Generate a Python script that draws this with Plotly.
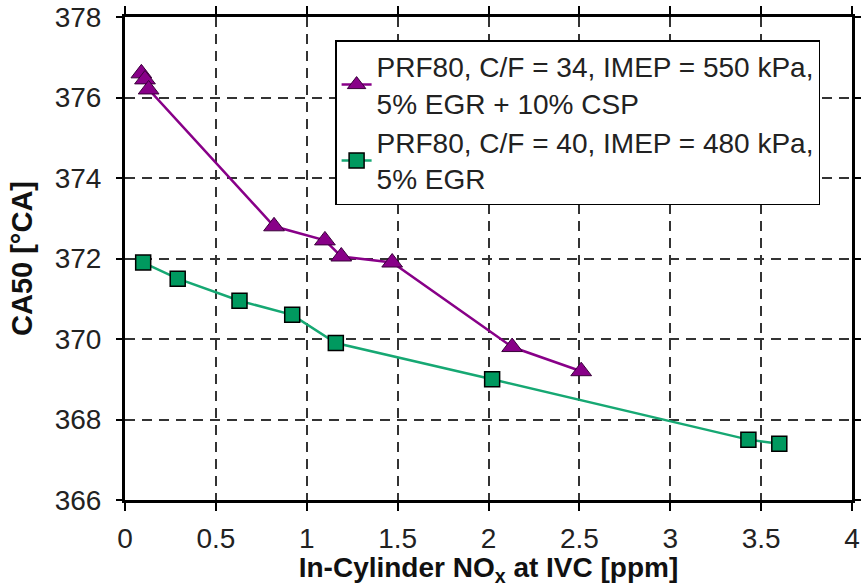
import plotly.graph_objects as go

# Data
nox_csp = [0.09, 0.11, 0.13, 0.82, 1.10, 1.19, 1.47, 2.13, 2.51]
ca50_csp = [376.6, 376.45, 376.2, 372.8, 372.45, 372.05, 371.9, 369.8, 369.2]

nox_egr = [0.10, 0.29, 0.63, 0.92, 1.16, 2.02, 3.43, 3.60]
ca50_egr = [371.9, 371.5, 370.95, 370.6, 369.9, 369.0, 367.5, 367.4]

name_csp = "PRF80, C/F = 34, IMEP = 550 kPa,<br>5% EGR + 10% CSP"
name_egr = "PRF80, C/F = 40, IMEP = 480 kPa,<br>5% EGR"

x_ticks = [0, 0.5, 1, 1.5, 2, 2.5, 3, 3.5, 4]
x_ticklabels = ["0", "0.5", "1", "1.5", "2", "2.5", "3", "3.5", "4"]
y_ticks = [366, 368, 370, 372, 374, 376, 378]

purple = "#880088"
green_fill = "#00995F"
green_line = "#16A873"

FONT = "Liberation Sans, Arial, sans-serif"

fig = go.Figure()
fig.add_trace(go.Scatter(
    x=nox_csp, y=ca50_csp, name=name_csp, mode="lines+markers",
    line=dict(color=purple, width=2.5),
    marker=dict(symbol="triangle-up", size=18, color=purple,
                line=dict(color="#3a003a", width=1)),
))
fig.add_trace(go.Scatter(
    x=nox_egr, y=ca50_egr, name=name_egr, mode="lines+markers",
    line=dict(color=green_line, width=2.5),
    marker=dict(symbol="square", size=15, color=green_fill,
                line=dict(color="black", width=1.5)),
))

fig.update_layout(
    width=861, height=587,
    margin=dict(l=125, r=9, t=17, b=87, autoexpand=False),
    paper_bgcolor="white", plot_bgcolor="white",
    font=dict(family=FONT, size=28, color="#222"),
    showlegend=True,
    legend=dict(
        x=0.289, y=0.952, xanchor="left", yanchor="top",
        bgcolor="white", bordercolor="black", borderwidth=1.5,
        font=dict(family=FONT, size=28, color="#222"),
        tracegroupgap=0,
    ),
)

fig.update_xaxes(
    range=[0, 4], tickvals=x_ticks, ticktext=x_ticklabels,
    automargin=False, ticklabeloverflow="allow",
    showline=True, linecolor="black", linewidth=3, mirror="ticks",
    ticks="outside", ticklen=8, tickwidth=1.5, tickcolor="black",
    ticklabelstandoff=3,
    showgrid=True, gridcolor="#333", gridwidth=1.5, griddash="10px,7px",
    zeroline=False,
    tickfont=dict(family=FONT, size=28, color="#222"),
    title=dict(text="<b>In-Cylinder NO<sub>x</sub> at IVC [ppm]</b>",
               font=dict(family=FONT, size=28, color="#111"), standoff=4),
)
fig.update_yaxes(
    range=[366, 378], tickvals=y_ticks,
    automargin=False, ticklabeloverflow="allow",
    showline=True, linecolor="black", linewidth=3, mirror="ticks",
    ticks="outside", ticklen=6, tickwidth=1.5, tickcolor="black",
    ticklabelstandoff=9,
    showgrid=True, gridcolor="#333", gridwidth=1.5, griddash="10px,7px",
    zeroline=False,
    tickfont=dict(family=FONT, size=28, color="#222"),
    title=dict(text="<b>CA50 [°CA]</b>",
               font=dict(family=FONT, size=29, color="#111"), standoff=14),
)

fig.write_html("out.html", config={"displayModeBar": False},
               post_script="document.body.style.margin='0';")
